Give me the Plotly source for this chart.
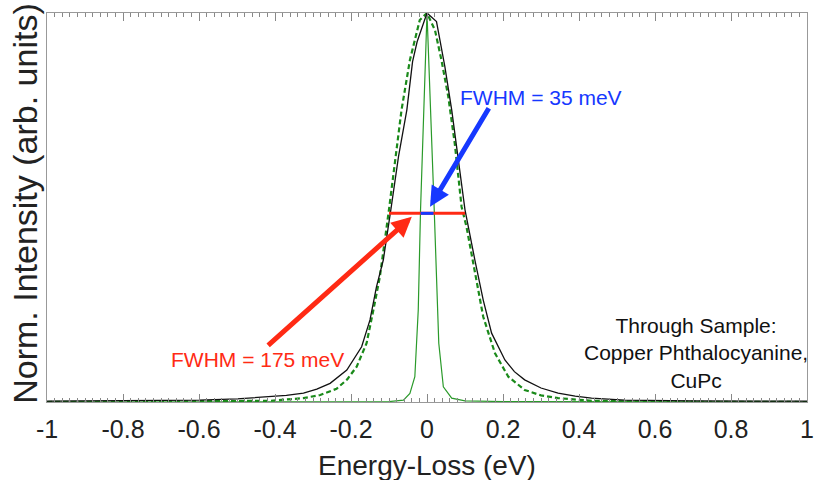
import plotly.graph_objects as go

# ---- data ----
black_x = [-1.0, -0.8, -0.6, -0.5, -0.413, -0.37, -0.325, -0.29, -0.255, -0.211, -0.172, -0.150,
           -0.133, -0.115, -0.095, -0.075, -0.053, -0.038, -0.026, 0.0, 0.025, 0.047, 0.065,
           0.083, 0.100, 0.126, 0.148, 0.170, 0.205, 0.23, 0.257, 0.3, 0.345, 0.39, 0.433,
           0.520, 0.7, 1.0]
black_y = [0.002, 0.003, 0.005, 0.008, 0.013, 0.017, 0.023, 0.033, 0.048, 0.082, 0.142, 0.211,
           0.296, 0.365, 0.495, 0.631, 0.751, 0.875, 0.926, 1.0, 0.978, 0.862, 0.751,
           0.622, 0.494, 0.365, 0.262, 0.177, 0.108, 0.078, 0.057, 0.036, 0.023, 0.015, 0.010,
           0.005, 0.003, 0.002]

dashed_x = [-1.0, -0.6, -0.413, -0.325, -0.281, -0.238, -0.21, -0.185, -0.159, -0.141, -0.124,
            -0.100, -0.067, -0.045, -0.019, 0.0, 0.021, 0.038, 0.056, 0.073, 0.091, 0.104, 0.126,
            0.148, 0.179, 0.214, 0.257, 0.3, 0.345, 0.433, 0.6, 1.0]
dashed_y = [0.0, 0.001, 0.003, 0.010, 0.018, 0.034, 0.058, 0.091, 0.151, 0.237, 0.322,
            0.495, 0.751, 0.879, 0.982, 1.0, 0.956, 0.879, 0.785, 0.665, 0.502, 0.45, 0.339,
            0.219, 0.125, 0.065, 0.031, 0.017, 0.010, 0.003, 0.001, 0.0]

narrow_x = [-1.0, -0.2, -0.1, -0.062, -0.045, -0.032, -0.023, -0.017, 0.0, 0.019, 0.025, 0.031,
            0.043, 0.065, 0.1, 0.2, 1.0]
narrow_y = [0.0, 0.0, 0.001, 0.005, 0.022, 0.065, 0.237, 0.494, 1.0, 0.494, 0.322, 0.151,
            0.039, 0.010, 0.003, 0.001, 0.0]

fwhm_wide_x = [-0.1, 0.1]
fwhm_narrow_x = [-0.017, 0.017]
half_max = [0.485, 0.485]

tick_vals = [-1, -0.8, -0.6, -0.4, -0.2, 0, 0.2, 0.4, 0.6, 0.8, 1]
tick_text = ["-1", "-0.8", "-0.6", "-0.4", "-0.2", "0", "0.2", "0.4", "0.6", "0.8", "1"]

RED = "#ff2a14"
BLUE = "#1638ff"
FONT = "Liberation Sans, Arial, sans-serif"

fig = go.Figure()
fig.add_trace(go.Scatter(x=narrow_x, y=narrow_y, mode="lines",
                         line=dict(color="#2a9a2a", width=1.2)))
fig.add_trace(go.Scatter(x=dashed_x, y=dashed_y, mode="lines",
                         line=dict(color="#1a8a1a", width=2.2, dash="5px,3px")))
fig.add_trace(go.Scatter(x=black_x, y=black_y, mode="lines",
                         line=dict(color="#111111", width=1.3)))
fig.add_trace(go.Scatter(x=fwhm_wide_x, y=half_max, mode="lines",
                         line=dict(color=RED, width=3)))
fig.add_trace(go.Scatter(x=fwhm_narrow_x, y=half_max, mode="lines",
                         line=dict(color=BLUE, width=3)))

annotations = [
    dict(x=-0.040, y=0.476, ax=-0.422, ay=0.142, xref="x", yref="y", axref="x", ayref="y",
         showarrow=True, arrowhead=2, arrowsize=0.8, arrowwidth=5, arrowcolor=RED, text=""),
    dict(x=0.008, y=0.502, ax=0.165, ay=0.759, xref="x", yref="y", axref="x", ayref="y",
         showarrow=True, arrowhead=2, arrowsize=0.8, arrowwidth=5, arrowcolor=BLUE, text=""),
    dict(x=-0.447, y=0.108, xref="x", yref="y", text="FWHM = 175 meV", showarrow=False,
         font=dict(family=FONT, size=21, color=RED)),
    dict(x=0.299, y=0.784, xref="x", yref="y", text="FWHM = 35 meV", showarrow=False,
         font=dict(family=FONT, size=21, color=BLUE)),
    dict(x=0.707, y=0.126, xref="x", yref="y",
         text="Through Sample:<br>Copper Phthalocyanine,<br>CuPc", showarrow=False,
         align="center", font=dict(family=FONT, size=21, color="#111111")),
    dict(x=-0.03, y=0.51, xref="paper", yref="paper", text="Norm. Intensity (arb. units)",
         textangle=-90, showarrow=False, xanchor="center", yanchor="middle",
         font=dict(family=FONT, size=34, color="#222222")),
    dict(x=0.5, y=-0.162, xref="paper", yref="paper", text="Energy-Loss (eV)",
         showarrow=False, xanchor="center", yanchor="middle",
         font=dict(family=FONT, size=28, color="#222222")),
]

fig.update_layout(
    width=814, height=480,
    margin=dict(l=47, r=7, t=13, b=78, autoexpand=False),
    paper_bgcolor="white", plot_bgcolor="white",
    showlegend=False,
    annotations=annotations,
    font=dict(family=FONT),
)
fig.update_xaxes(range=[-1, 1], tickvals=tick_vals, ticktext=tick_text,
                 ticks="inside", ticklen=8, tickwidth=1, tickcolor="#888888",
                 minor=dict(dtick=0.02, ticks="inside", ticklen=4, tickcolor="#888888"),
                 showline=True, linecolor="#999999", linewidth=1, mirror="ticks",
                 showgrid=False, zeroline=False, automargin=False, ticklabelstandoff=5,
                 tickfont=dict(family=FONT, size=25, color="#222222"))
fig.update_yaxes(range=[0, 1], showticklabels=False, ticks="",
                 showline=True, linecolor="#999999", linewidth=1, mirror=True,
                 showgrid=False, zeroline=False, automargin=False)

fig.write_html("out.html", config={"displayModeBar": False},
               post_script="document.body.style.margin='0';document.body.style.overflow='hidden';")
